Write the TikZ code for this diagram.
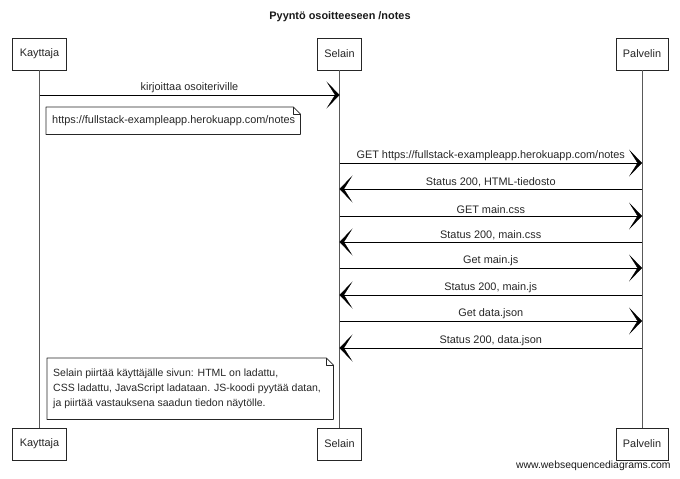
\documentclass[tikz,border=0pt]{standalone}
\usepackage{fontspec}
\setmainfont{Liberation Sans}
\usetikzlibrary{arrows.meta}
\begin{document}
\begin{tikzpicture}[x=1pt,y=-1pt,
  font=\fontsize{10.9}{13}\selectfont,
  actor/.style={draw=black!85, line width=0.8pt, fill=white, minimum height=32pt, inner xsep=7pt, text=black!85},
  life/.style={draw=black!65, line width=0.8pt},
  chev/.tip={Stealth[length=13pt,width=27pt,inset=8.5pt,line width=0.3pt]},
  msg/.style={draw=black, line width=0.9pt, -chev},
  lbl/.style={text=black!85, inner sep=1pt, above=1pt},
  notebox/.style={draw=none, minimum width=#1, inner sep=0pt, anchor=north west},
  noteline/.style={draw=black!85, line width=0.8pt, line join=round},
  notetext/.style={align=left, inner xsep=6pt, inner ysep=0pt, text=black!85}
]
\useasboundingbox (0,0) rectangle (680,479);
\node[font=\bfseries\fontsize{10.9}{13}\selectfont, text=black!90] (title) at (340,17) {Pyyntö osoitteeseen /notes};
% actors
\node[actor] (kt) at (39.5,54) {Kayttaja};
\node[actor] (st) at (339.5,54) {Selain};
\node[actor] (pt) at (642,54) {Palvelin};
\node[actor] (kb) at (39.5,444) {Kayttaja};
\node[actor] (sb) at (339.5,444) {Selain};
\node[actor] (pb) at (642,444) {Palvelin};
\draw[life] (kt) -- (kb);
\draw[life] (st) -- (sb);
\draw[life] (pt) -- (pb);
% message coordinates
\coordinate (k1) at (kt |- 0,95);  \coordinate (s1) at (st |- 0,95);
\coordinate (s2) at (st |- 0,163); \coordinate (p2) at (pt |- 0,163);
\coordinate (s3) at (st |- 0,189); \coordinate (p3) at (pt |- 0,189);
\coordinate (s4) at (st |- 0,216); \coordinate (p4) at (pt |- 0,216);
\coordinate (s5) at (st |- 0,242); \coordinate (p5) at (pt |- 0,242);
\coordinate (s6) at (st |- 0,268); \coordinate (p6) at (pt |- 0,268);
\coordinate (s7) at (st |- 0,295); \coordinate (p7) at (pt |- 0,295);
\coordinate (s8) at (st |- 0,321); \coordinate (p8) at (pt |- 0,321);
\coordinate (s9) at (st |- 0,348); \coordinate (p9) at (pt |- 0,348);
\draw[msg] (k1) -- node[lbl] {kirjoittaa osoiteriville} (s1);
\draw[msg] (s2) -- node[lbl] {GET https://fullstack-exampleapp.herokuapp.com/notes} (p2);
\draw[msg] (p3) -- node[lbl] {Status 200, HTML-tiedosto} (s3);
\draw[msg] (s4) -- node[lbl] {GET main.css} (p4);
\draw[msg] (p5) -- node[lbl] {Status 200, main.css} (s5);
\draw[msg] (s6) -- node[lbl] {Get main.js} (p6);
\draw[msg] (p7) -- node[lbl] {Status 200, main.js} (s7);
\draw[msg] (s8) -- node[lbl] {Get data.json} (p8);
\draw[msg] (p9) -- node[lbl] {Status 200, data.json} (s9);
% note 1
\node[notebox=254pt, minimum height=27pt] (n1) at (46,107) {};
\draw[noteline] (n1.north west) -- ([xshift=-7pt]n1.north east) -- ([yshift=-7pt]n1.north east) -- (n1.south east) -- (n1.south west) -- cycle;
\draw[noteline] ([xshift=-7pt]n1.north east) -- ([xshift=-7pt,yshift=-7pt]n1.north east) -- ([yshift=-7pt]n1.north east);
\node[notetext, anchor=west] (n1t) at (n1.west) {https://fullstack-exampleapp.herokuapp.com/notes};
% note 2
\node[notebox=286pt, minimum height=61pt] (n2) at (47,358) {};
\draw[noteline] (n2.north west) -- ([xshift=-7pt]n2.north east) -- ([yshift=-7pt]n2.north east) -- (n2.south east) -- (n2.south west) -- cycle;
\draw[noteline] ([xshift=-7pt]n2.north east) -- ([xshift=-7pt,yshift=-7pt]n2.north east) -- ([yshift=-7pt]n2.north east);
\node[notetext, anchor=west, font=\fontsize{10.5}{15}\selectfont] (n2t) at (n2.west) {Selain piirtää käyttäjälle sivun: HTML on ladattu,\\CSS ladattu, JavaScript ladataan. JS-koodi pyytää datan,\\ja piirtää vastauksena saadun tiedon näytölle.};
% watermark
\node[anchor=east, font=\fontsize{10.4}{12}\selectfont, text=black!90] (wm) at (674,466) {www.websequencediagrams.com};
\end{tikzpicture}
\end{document}
